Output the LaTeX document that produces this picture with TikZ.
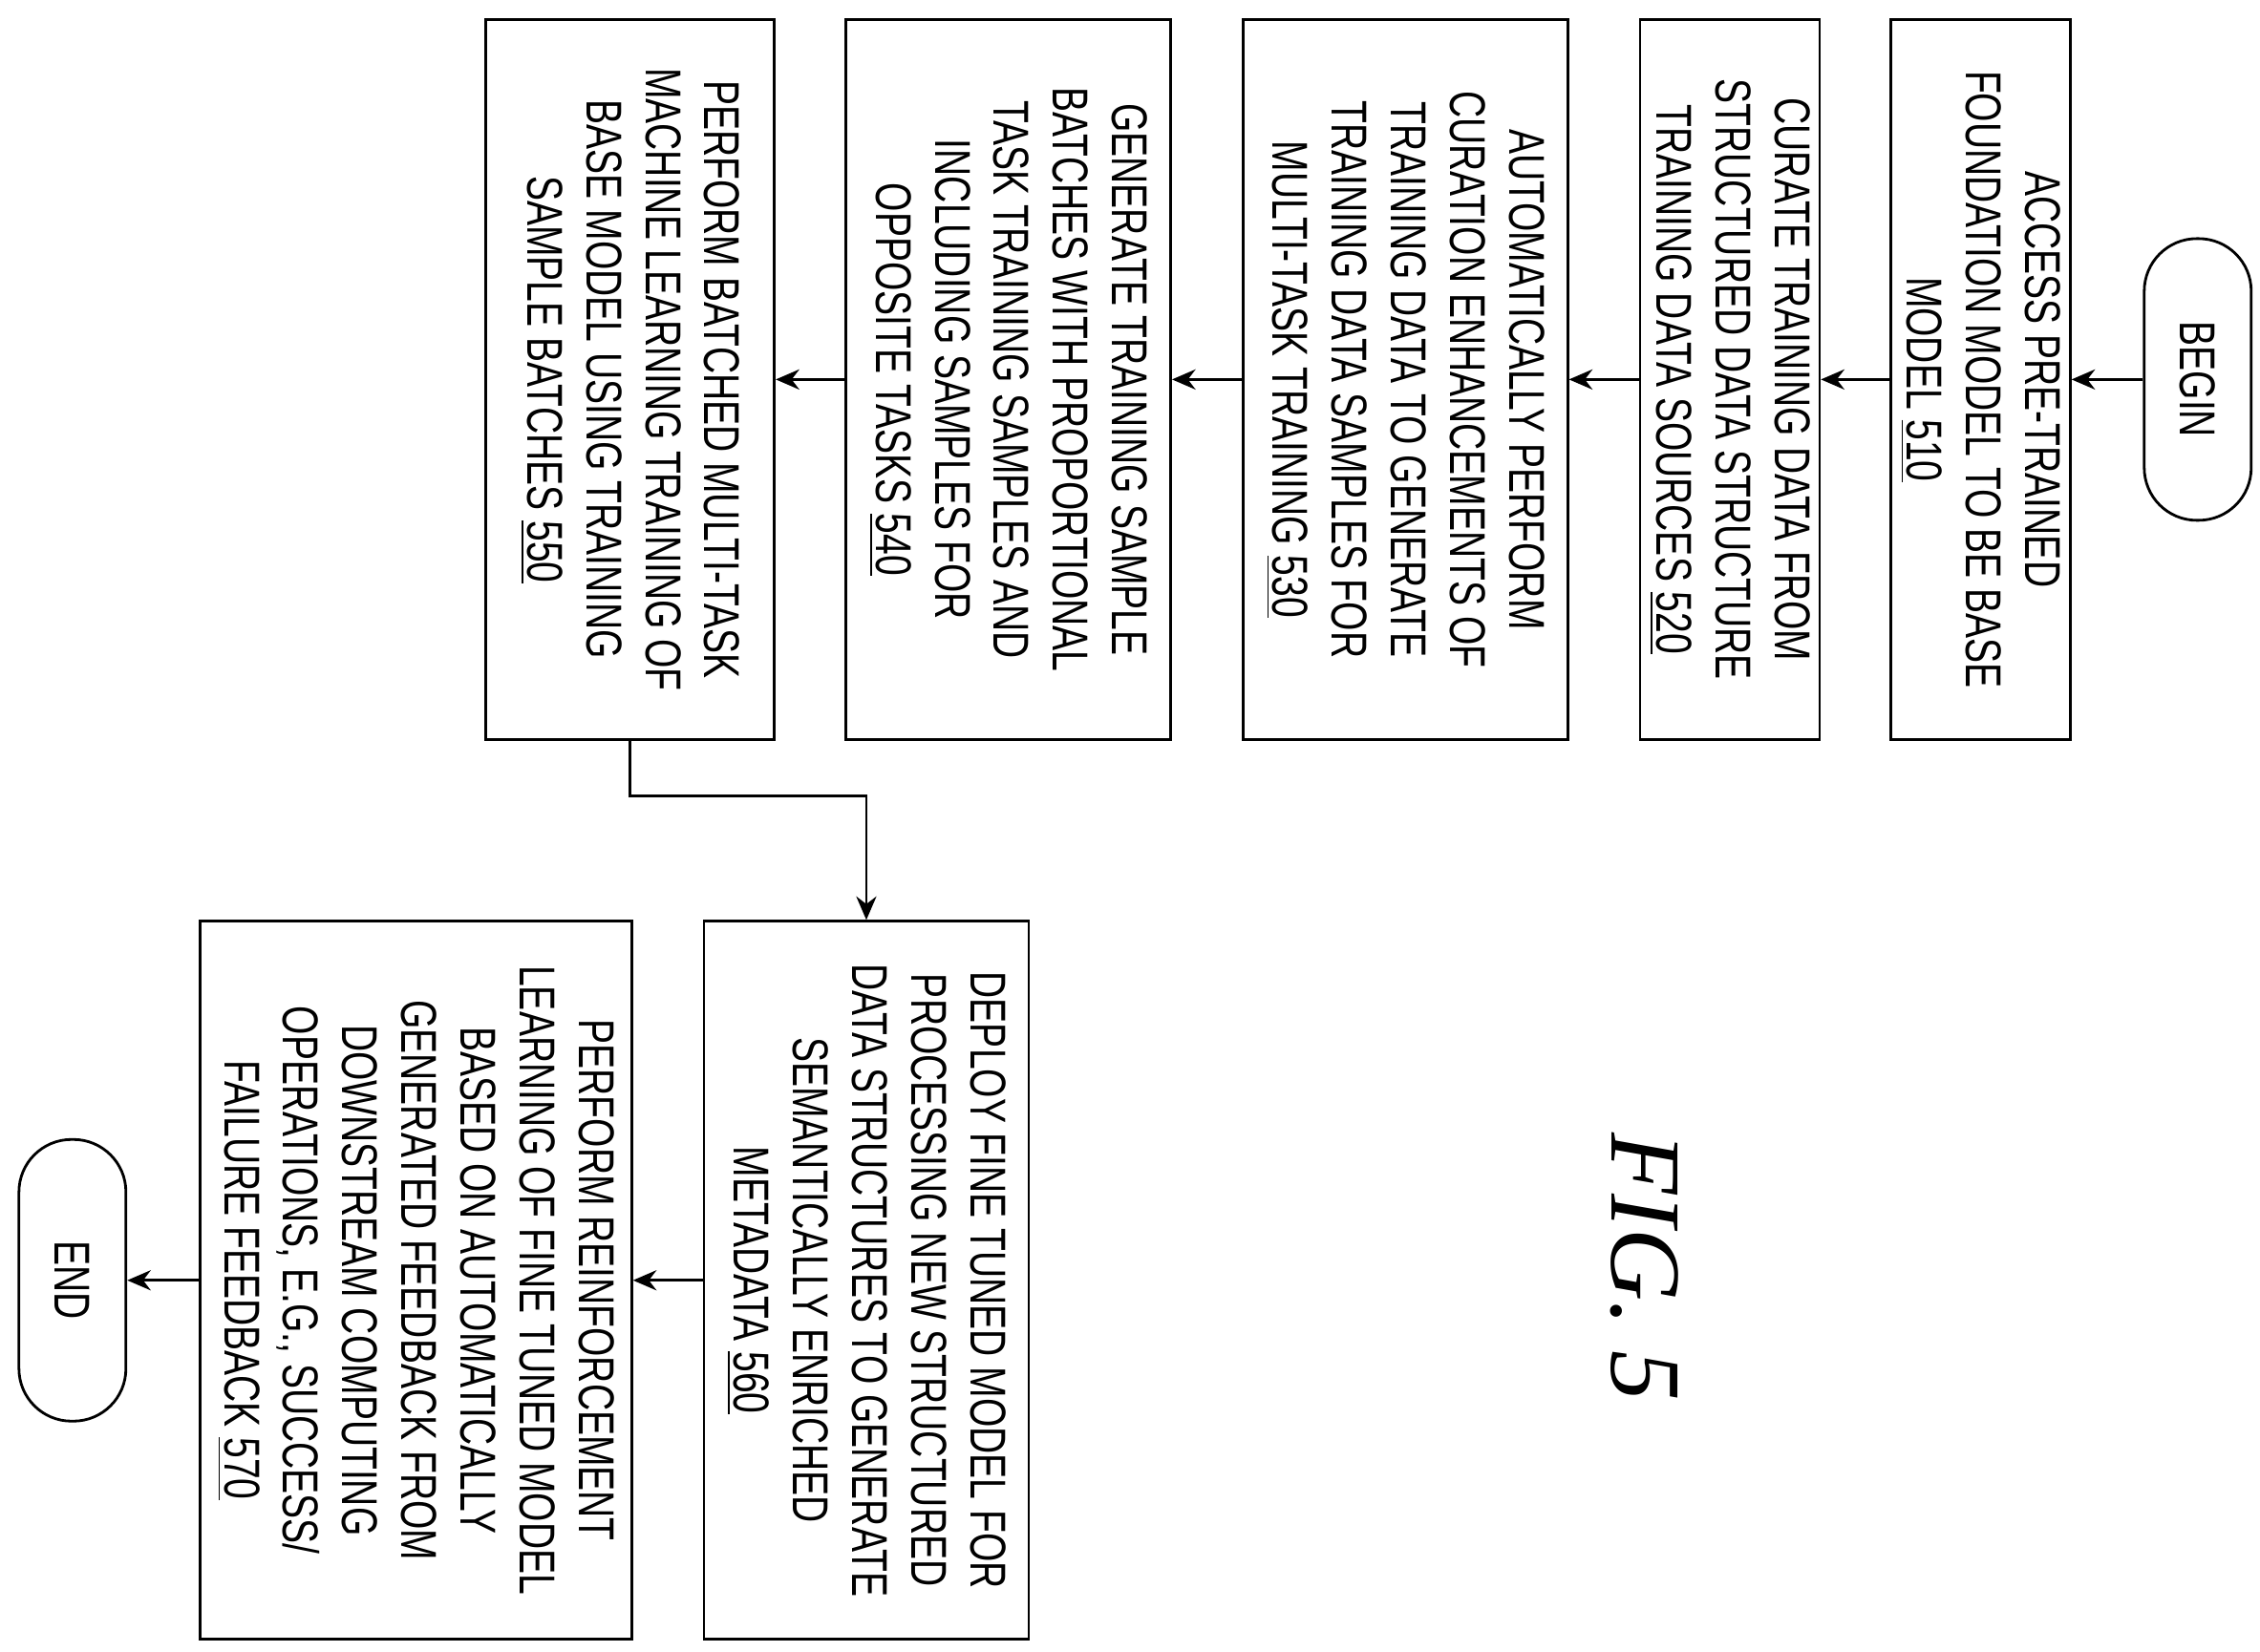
\documentclass[tikz,border=0pt]{standalone}
\usepackage{fontspec}
\setmainfont{Liberation Sans}[FakeStretch=0.74]
\newfontfamily\figfont{Liberation Serif}
\usetikzlibrary{arrows.meta}
\tikzset{
  stepbox/.style={draw, thick, rotate=-90, align=center, inner sep=2pt,
    font=\fontsize{15}{17.6}\selectfont},
  term/.style={draw, thick, rotate=-90, rounded corners=0.55cm,
    minimum width=2.95cm, minimum height=1.12cm, font=\fontsize{15}{17.6}\selectfont},
}
\begin{document}
\begin{tikzpicture}[x=0.015167cm, y=-0.015167cm, >={Stealth[length=7pt,width=6pt]}, thick]
\useasboundingbox (0,0) rectangle (1560,1140);

\node [term] (begin) at (1517,262) {BEGIN};
\node [stepbox, minimum width=7.54cm, minimum height=1.88cm] (s510) at (1367,262)
  {ACCESS PRE-TRAINED\\FOUNDATION MODEL TO BE BASE\\MODEL \underline{510}};
\node [stepbox, minimum width=7.54cm, minimum height=1.88cm] (s520) at (1194,262)
  {CURATE TRAINING DATA FROM\\STRUCTURED DATA STRUCTURE\\TRAINING DATA SOURCES \underline{520}};
\node [stepbox, minimum width=7.54cm, minimum height=3.4cm] (s530) at (970,262)
  {AUTOMATICALLY PERFORM\\CURATION ENHANCEMENTS OF\\TRAINING DATA TO GENERATE\\TRAINING DATA SAMPLES FOR\\MULTI-TASK TRAINING \underline{530}};
\node [stepbox, minimum width=7.54cm, minimum height=3.4cm] (s540) at (696,262)
  {GENERATE TRAINING SAMPLE\\BATCHES WITH PROPORTIONAL\\TASK TRAINING SAMPLES AND\\INCLUDING SAMPLES FOR\\OPPOSITE TASKS \underline{540}};
\node [stepbox, minimum width=7.54cm, minimum height=3.02cm] (s550) at (435,262)
  {PERFORM BATCHED MULTI-TASK\\MACHINE LEARNING TRAINING OF\\BASE MODEL USING TRAINING\\SAMPLE BATCHES \underline{550}};
\node [stepbox, minimum width=7.52cm, minimum height=3.4cm] (s560) at (598,884)
  {DEPLOY FINE TUNED MODEL FOR\\PROCESSING NEW STRUCTURED\\DATA STRUCTURES TO GENERATE\\SEMANTICALLY ENRICHED\\METADATA \underline{560}};
\node [stepbox, minimum width=7.52cm, minimum height=4.52cm] (s570) at (287,884)
  {PERFORM REINFORCEMENT\\LEARNING OF FINE TUNED MODEL\\BASED ON AUTOMATICALLY\\GENERATED FEEDBACK FROM\\DOWNSTREAM COMPUTING\\OPERATIONS, E.G., SUCCESS/\\FAILURE FEEDBACK \underline{570}};
\node [term] (end) at (50,884) {END};

\node [rotate=-90, font=\figfont\itshape\fontsize{30}{32}\selectfont] (fig) at (1135,875) {FIG. 5};

\foreach \a/\b in {begin/s510,s510/s520,s520/s530,s530/s540,s540/s550,s560/s570,s570/end}
  \draw [->] (\a) -- (\b);
\draw [->] (s550.east) -- ++(0,38) -| (s560.west);
\end{tikzpicture}
\end{document}
